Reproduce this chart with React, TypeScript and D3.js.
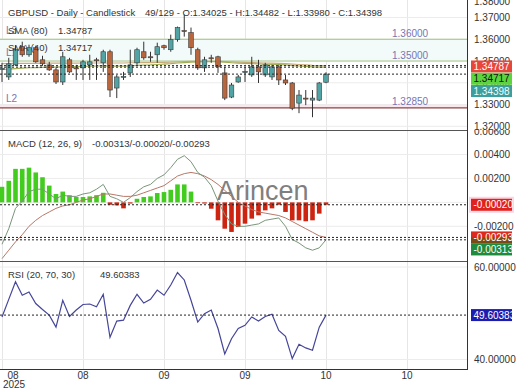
import React from 'react';
import * as d3 from 'd3';

const opens = [1.34639,1.34269,1.34824,1.35658,1.35287,1.35611,1.35056,1.34824,1.34593,1.34037,
1.35056,1.34685,1.34685,1.34824,1.35056,1.34917,1.35426,1.33759,1.34269,1.34454,
1.34917,1.35426,1.35195,1.35287,1.35704,1.35519,1.35982,1.36398,1.36306,1.35519,
1.34685,1.35148,1.35195,1.34454,1.33343,1.34037,1.34500,1.34361,1.34732,1.34361,
1.34269,1.34732,1.34130,1.33991,1.33065,1.33296,1.33204,1.33204,1.34025];
const highs = [1.34917,1.35148,1.35704,1.35889,1.35750,1.35704,1.35241,1.34963,1.34685,1.35426,
1.35148,1.34824,1.35056,1.35287,1.35148,1.35519,1.35519,1.34361,1.34500,1.35519,
1.35611,1.35889,1.35426,1.35843,1.35750,1.36213,1.36584,1.37139,1.36537,1.35611,
1.35195,1.35287,1.35241,1.34732,1.33991,1.34361,1.34732,1.35195,1.35056,1.34917,
1.34824,1.34824,1.34361,1.34037,1.33667,1.33667,1.33667,1.34037,1.34482];
const lows = [1.34037,1.34130,1.34778,1.35195,1.35195,1.34917,1.34778,1.34546,1.33944,1.33898,
1.34454,1.34130,1.34130,1.34130,1.34130,1.34500,1.33343,1.33296,1.34130,1.34269,
1.34824,1.35056,1.34963,1.34917,1.35519,1.35426,1.35889,1.36121,1.35287,1.34593,
1.34500,1.34917,1.34454,1.33204,1.33296,1.34000,1.34037,1.34269,1.33991,1.34269,
1.34130,1.33898,1.33898,1.32741,1.32602,1.32972,1.32417,1.33157,1.33980];
const closes = [1.34662,1.34870,1.35519,1.35287,1.35611,1.34963,1.34870,1.34593,1.34037,1.35195,
1.34500,1.34662,1.34963,1.34963,1.35032,1.35426,1.33667,1.34269,1.34292,1.34824,
1.35519,1.35148,1.35171,1.35658,1.35611,1.35982,1.36537,1.36352,1.35611,1.34685,
1.35056,1.35125,1.34732,1.33296,1.33898,1.34269,1.34523,1.34732,1.34500,1.34824,
1.34732,1.34130,1.33991,1.32833,1.33435,1.33273,1.33296,1.33991,1.34398];

const sma80 = [1.3488,1.3488,1.3489,1.3489,1.3489,1.3489,1.3490,1.3490,1.3490,1.3490,
1.3490,1.3490,1.3491,1.3491,1.3491,1.3491,1.3491,1.3491,1.3491,1.3492,
1.3492,1.3493,1.3493,1.3494,1.3494,1.3495,1.3496,1.3497,1.3498,1.3498,
1.3498,1.3498,1.3498,1.3497,1.3496,1.3495,1.3494,1.3493,1.3492,1.3491,
1.3490,1.3489,1.3488,1.3486,1.3484,1.3482,1.3480,1.3479,1.34787];
const sma40 = [1.3462,1.3463,1.3465,1.3467,1.3469,1.3470,1.3471,1.3472,1.3472,1.3473,
1.3473,1.3474,1.3475,1.3476,1.3477,1.3478,1.3477,1.3477,1.3477,1.3478,
1.3480,1.3481,1.3482,1.3484,1.3486,1.3488,1.3491,1.3493,1.3495,1.3496,
1.3497,1.3497,1.3497,1.3495,1.3492,1.3490,1.3489,1.3488,1.3487,1.3486,
1.3485,1.3484,1.3482,1.3479,1.3477,1.3475,1.3473,1.3472,1.34717];

const macdLine = [-0.0035,-0.0022,-0.0005,0.0001,0.0009,0.0011,0.0011,0.0007,0.0003,0.0006,
0.0005,0.0005,0.0007,0.0008,0.0011,0.0015,0.0005,0.0003,0.0000,0.0004,
0.0009,0.0013,0.0015,0.0020,0.0023,0.0029,0.0036,0.0039,0.0034,0.0025,
0.0021,0.0014,0.0001,-0.0010,-0.0018,-0.0020,-0.0020,-0.0019,-0.0018,-0.0015,
-0.0014,-0.0013,-0.0020,-0.0031,-0.0034,-0.0038,-0.0040,-0.0038,-0.00313];
const signalLine = [-0.0047,-0.0040,-0.0033,-0.0027,-0.0020,-0.0015,-0.0011,-0.0008,-0.0005,-0.0003,
-0.0002,0.0000,0.0002,0.0003,0.0005,0.0007,0.0007,0.0006,0.0005,0.0005,
0.0006,0.0008,0.0010,0.0012,0.0014,0.0018,0.0022,0.0024,0.0025,0.0024,
0.0022,0.0019,0.0015,0.0010,0.0005,0.0000,-0.0003,-0.0006,-0.0008,-0.0009,
-0.0010,-0.0011,-0.0013,-0.0016,-0.0019,-0.0022,-0.0025,-0.0028,-0.00293];
const histogram = [0.0013,0.0018,0.0028,0.0028,0.0029,0.0025,0.0021,0.0014,0.0007,0.0009,
0.0006,0.00045,0.00045,0.0005,0.0006,0.0008,-0.0002,-0.00025,-0.0005,-0.0001,
0.0003,0.00045,0.0005,0.00078,0.00086,0.00105,0.0015,0.0015,0.0009,-0.00003,
-0.0001,-0.00053,-0.0015,-0.0022,-0.00247,-0.00206,-0.00178,-0.00136,-0.00108,-0.00067,
-0.0005,-0.0002,-0.0008,-0.0015,-0.0015,-0.00158,-0.0015,-0.00094,-0.0002];

const rsi = [49.2,53.0,56.8,53.9,54.6,52.1,50.8,49.6,47.0,52.8,
49.3,50.7,51.9,52.0,51.4,54.1,44.8,48.3,48.5,51.7,
54.1,52.2,53.0,55.0,53.9,56.1,58.8,57.2,52.8,48.1,
49.9,50.7,46.7,41.2,44.5,46.7,47.4,49.2,48.3,49.3,
49.8,46.3,45.0,40.2,43.3,42.5,42.0,47.0,49.60383];

const dateTickIdx = [0, 12, 24, 36, 48, 60];
const dateLabels = ['08', '08', '09', '09', '10', '10'];
const priceTicks = [1.38, 1.37, 1.36, 1.35, 1.34, 1.33, 1.32];
const macdTicks = [0.006, 0.004, 0.002, 0, -0.002];
const rsiTicks = [60, 40];
const levelValues = [1.36, 1.35, 1.3285];
const levelNames = ['L3', 'L1', 'L2'];
const levelColors = ['#9cc27a', '#a8c88a', '#8a4545'];

const FONT = "'Liberation Sans', Arial, sans-serif";
const FS = 10;
const LFS = 9.5;
const PR = 467; // plot right
const P1 = [0, 130], P2 = [130, 261], P3 = [261, 369];

const x = d3.scaleLinear().domain([0, 60]).range([2, 407]);
const yP = d3.scaleLinear().domain([1.32, 1.37]).range([126.3, 17.5]);
const yM = d3.scaleLinear().domain([-0.002, 0.004]).range([226.3, 154.5]);
const yR = d3.scaleLinear().domain([40, 60]).range([359.5, 267]);

const fmt5 = (v: number) => v.toFixed(5);

function AxisLabels({ ticks, scale, top, fmt }: any) {
  return (
    <g>
      {ticks.map((t: number, i: number) => {
        const yb = Math.max(scale(t) + 3.5, top + 4.5);
        return (
          <text key={i} x={474} y={yb} fontSize={FS} fill="#333" style={{ fontFamily: FONT }}>{fmt(t)}</text>
        );
      })}
    </g>
  );
}

function Tag({ y, text, bg, fg, bg2 }: any) {
  return (
    <g>
      <rect x={471} y={y - 6} width={41} height={12} fill={bg} />
      {bg2 && <rect x={471} y={y} width={41} height={6} fill={bg2} />}
      <text x={473.5} y={y + 3.6} fontSize={FS} fill={fg} style={{ fontFamily: FONT }}>{text}</text>
    </g>
  );
}

export default function App() {
  const n = closes.length;
  const idx = d3.range(n);
  const lineP = (arr: number[]) => d3.line<number>().x((_, i) => x(i)).y(d => yP(d))(arr) || '';
  const lineM = (arr: number[]) => d3.line<number>().x((_, i) => x(i)).y(d => yM(d))(arr) || '';
  const rsiPath = d3.line<number>().x((_, i) => x(i)).y(d => yR(d))(rsi) || '';
  const bw = 4.6;
  const tx = { fontFamily: FONT };

  const dotted = (y: number, key: string) => (
    <line key={key} x1={0} x2={PR} y1={y} y2={y} stroke="#222" strokeWidth={1} strokeDasharray="2,2" />
  );

  return (
    <svg width={520} height={390} style={{ position: 'absolute', left: 0, top: 0, background: '#fff', fontFamily: FONT }}>
      <defs>
        <clipPath id="c1"><rect x={0} y={P1[0]} width={PR} height={P1[1] - P1[0]} /></clipPath>
        <clipPath id="c2"><rect x={0} y={P2[0]} width={PR} height={P2[1] - P2[0]} /></clipPath>
        <clipPath id="c3"><rect x={0} y={P3[0]} width={PR} height={P3[1] - P3[0]} /></clipPath>
        <clipPath id="a1"><rect x={468} y={P1[0]} width={52} height={P1[1] - P1[0]} /></clipPath>
        <clipPath id="a2"><rect x={468} y={P2[0]} width={52} height={P2[1] - P2[0]} /></clipPath>
        <clipPath id="a3"><rect x={468} y={P3[0]} width={52} height={P3[1] - P3[0]} /></clipPath>
      </defs>
      <rect x={0} y={0} width={520} height={390} fill="#fff" />

      {dateTickIdx.map((d, i) => (
        <line key={'vg' + i} x1={x(d) + 0.5} x2={x(d) + 0.5} y1={0} y2={P3[1]} stroke="#e6e6e6" strokeWidth={1} />
      ))}

      {/* MAIN PANEL */}
      <g clipPath="url(#c1)">
        {priceTicks.map((t, i) => (
          <line key={'pg' + i} x1={0} x2={PR} y1={yP(t)} y2={yP(t)} stroke="#ececec" />
        ))}
        <rect x={0} y={yP(levelValues[0])} width={PR} height={yP(levelValues[1]) - yP(levelValues[0])} fill="#f3fafa" />
        <rect x={0} y={yP(levelValues[2]) - 3} width={PR} height={3} fill="#fbe6ec" />
        {levelValues.map((v, i) => (
          <g key={'lv' + i}>
            <line x1={0} x2={PR} y1={yP(v)} y2={yP(v)} stroke={levelColors[i]} strokeWidth={1.2} />
            <text x={392} y={yP(v) - 2.5} fontSize={FS} fill="#7676b4" style={tx}>{fmt5(v)}</text>
            <text x={6} y={yP(v) - 5.5} fontSize={FS} fill="#7676b4" style={tx}>{levelNames[i]}</text>
          </g>
        ))}
        <path d={lineP(sma80)} fill="none" stroke="#c8aa7a" strokeWidth={1.2} />
        <path d={lineP(sma40)} fill="none" stroke="#a2ae55" strokeWidth={1.2} />
        {idx.map(i => {
          const o = opens[i], c = closes[i];
          const up = c >= o;
          const doji = Math.abs(c - o) < 0.00012;
          const top = yP(Math.max(o, c));
          const h = Math.max(1, Math.abs(yP(o) - yP(c)));
          return (
            <g key={'cd' + i}>
              <line x1={x(i)} x2={x(i)} y1={yP(highs[i])} y2={yP(lows[i])} stroke="#333" strokeWidth={1} />
              <rect x={x(i) - bw / 2} y={top} width={bw} height={h}
                fill={doji ? '#333' : up ? '#52a4a4' : '#b8663e'} stroke="#3a3a3a" strokeWidth={0.6} />
            </g>
          );
        })}
        {dotted(yP(sma80[n - 1]), 'd1')}
        {dotted(yP(sma40[n - 1]), 'd2')}
        {dotted(yP(closes[n - 1]), 'd3')}
      </g>
      <text x={8} y={16} fontSize={LFS} fill="#333" style={tx}>GBPUSD - Daily - Candlestick</text>
      <text x={145} y={16} fontSize={LFS} fill="#333" style={tx}>
        {`49/129 - O:${fmt5(opens[n - 1])} - H:${fmt5(highs[n - 1])} - L:${fmt5(lows[n - 1])} - C:${fmt5(closes[n - 1])}`}
      </text>
      <text x={8} y={33.5} fontSize={LFS} fill="#333" style={tx}>SMA (80)</text>
      <text x={58} y={33.5} fontSize={LFS} fill="#333" style={tx}>{fmt5(sma80[n - 1])}</text>
      <text x={8} y={50.5} fontSize={LFS} fill="#333" style={tx}>SMA (40)</text>
      <text x={58} y={50.5} fontSize={LFS} fill="#333" style={tx}>{fmt5(sma40[n - 1])}</text>

      <g clipPath="url(#a1)">
        <AxisLabels ticks={priceTicks} scale={yP} top={P1[0]} fmt={fmt5} />
        <Tag y={yP(sma80[n - 1]) + 0.8} text={fmt5(sma80[n - 1])} bg="#e6463c" fg="#fff" />
        <Tag y={yP(sma80[n - 1]) + 13.1} text={fmt5(sma40[n - 1])} bg="#5cd43e" fg="#111" />
        <Tag y={yP(sma80[n - 1]) + 25.4} text={fmt5(closes[n - 1])} bg="#3e9e9e" fg="#e8ffff" />
      </g>

      {/* MACD PANEL */}
      <g clipPath="url(#c2)">
        {macdTicks.map((t, i) => (
          <line key={'mg' + i} x1={0} x2={PR} y1={yM(t)} y2={yM(t)} stroke="#ececec" />
        ))}
        {idx.map(i => {
          const v = histogram[i];
          const y0 = yM(0), y1 = yM(v);
          return (
            <rect key={'h' + i} x={x(i) - 2.3} width={4.6} y={Math.min(y0, y1)} height={Math.max(0.8, Math.abs(y1 - y0))}
              fill={v >= 0 ? '#42cc1e' : '#cc2410'} />
          );
        })}
        <text x={217} y={200} fontSize={27} fill="#555" opacity={0.75} style={tx}>Arincen</text>
        <path d={lineM(signalLine)} fill="none" stroke="#b87868" strokeWidth={1} />
        <path d={lineM(macdLine)} fill="none" stroke="#7a967a" strokeWidth={1} />
        {dotted(yM(histogram[n - 1]), 'm1')}
        {dotted(yM(signalLine[n - 1]), 'm2')}
        {dotted(yM(macdLine[n - 1]), 'm3')}
      </g>
      <text x={8} y={147} fontSize={LFS} fill="#333" style={tx}>MACD (12, 26, 9)</text>
      <text x={92} y={147} fontSize={LFS} fill="#333" style={tx}>
        {`${fmt5(macdLine[n - 1])}/${fmt5(histogram[n - 1])}/${fmt5(signalLine[n - 1])}`}
      </text>
      <g clipPath="url(#a2)">
        <AxisLabels ticks={macdTicks} scale={yM} top={P2[0]} fmt={fmt5} />
        <rect x={469} y={yM(histogram[n - 1]) - 8} width={45} height={16} fill="#fbd6e4" />
        <Tag y={yM(histogram[n - 1])} text={fmt5(histogram[n - 1])} bg="#e0221c" fg="#fff" />
        <Tag y={yM(signalLine[n - 1])} text={fmt5(signalLine[n - 1])} bg="#dc2a1c" bg2="#7c4a14" fg="#fff" />
        <Tag y={yM(signalLine[n - 1]) + 12} text={fmt5(macdLine[n - 1])} bg="#1e8c3c" fg="#fff" />
      </g>

      {/* RSI PANEL */}
      <g clipPath="url(#c3)">
        {rsiTicks.map((t, i) => (
          <line key={'rg' + i} x1={0} x2={PR} y1={yR(t)} y2={yR(t)} stroke="#ececec" />
        ))}
        <path d={rsiPath} fill="none" stroke="#45459a" strokeWidth={1.2} />
        {dotted(yR(rsi[n - 1]), 'r1')}
      </g>
      <text x={8} y={278} fontSize={LFS} fill="#333" style={tx}>RSI (20, 70, 30)</text>
      <text x={100} y={278} fontSize={LFS} fill="#333" style={tx}>{fmt5(rsi[n - 1])}</text>
      <g clipPath="url(#a3)">
        <AxisLabels ticks={rsiTicks} scale={yR} top={P3[0]} fmt={fmt5} />
        <Tag y={yR(rsi[n - 1])} text={fmt5(rsi[n - 1])} bg="#1c1cb0" fg="#fff" />
      </g>

      <line x1={0} x2={PR} y1={P2[0] + 0.5} y2={P2[0] + 0.5} stroke="#555" strokeWidth={1} />
      <line x1={0} x2={PR} y1={P3[0] + 0.5} y2={P3[0] + 0.5} stroke="#555" strokeWidth={1} />
      <line x1={0} x2={PR} y1={P3[1] + 0.5} y2={P3[1] + 0.5} stroke="#333" strokeWidth={1} />
      <line x1={PR + 0.5} x2={PR + 0.5} y1={0} y2={P3[1] + 1} stroke="#333" strokeWidth={1} />

      {dateTickIdx.map((d, i) => (
        <text key={'dl' + i} x={Math.max(13, x(d))} y={379} fontSize={FS} fill="#333" textAnchor="middle" style={tx}>{dateLabels[i]}</text>
      ))}
      <text x={14} y={388} fontSize={FS} fill="#333" textAnchor="middle" style={tx}>2025</text>
    </svg>
  );
}
